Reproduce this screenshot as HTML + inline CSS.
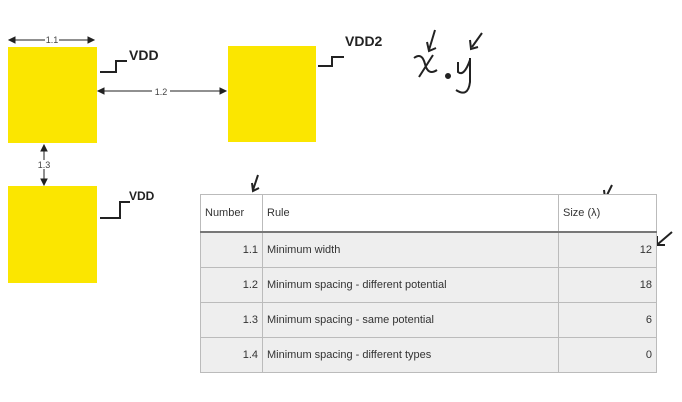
<!DOCTYPE html>
<html><head><meta charset="utf-8"><style>
body{margin:0;width:682px;height:402px;background:#fff;overflow:hidden;font-family:"Liberation Sans",sans-serif;position:relative}
.sq{position:absolute;background:#fbe600}
table{position:absolute;left:200px;top:194px;width:457px;border-collapse:collapse;font-size:11px;color:#333}
td{border:1px solid #bbb;padding:0 4px;height:34px}
tr.h td{background:#fff;height:36px;border-bottom:2px solid #777}
tr.b td{background:#eeeeee}
.r{text-align:right}
svg{position:absolute;left:0;top:0}
</style></head><body>
<div class="sq" style="left:8px;top:47px;width:89px;height:96px"></div>
<div class="sq" style="left:228px;top:46px;width:88px;height:96px"></div>
<div class="sq" style="left:8px;top:186px;width:89px;height:97px"></div>
<svg width="682" height="402">
<g stroke="#222" fill="#222" stroke-width="1">
<line x1="10" y1="40" x2="93" y2="40"/><path d="M9 40l6-3v6zM94 40l-6-3v6z"/>
<line x1="99" y1="91" x2="225" y2="91"/><path d="M98 91l6-3v6zM226 91l-6-3v6z"/>
<line x1="44" y1="146" x2="44" y2="184"/><path d="M44 145l-3 6h6zM44 185l-3-6h6z"/>
</g>
<g font-size="9" fill="#444" text-anchor="middle">
<rect x="45" y="35" width="14" height="9" fill="#fff"/><text x="52" y="43">1.1</text>
<rect x="152" y="86" width="18" height="9" fill="#fff"/><text x="161" y="95">1.2</text>
<rect x="36" y="160" width="16" height="9" fill="#fff"/><text x="44" y="168">1.3</text>
</g>
<g stroke="#222" stroke-width="2" fill="none">
<path d="M100 72h16v-11h11"/><path d="M318 66h14v-9h12"/><path d="M100 218h20v-16h10"/>
<path d="M435 30l-6 20M427 42l2 9 7-3"/><path d="M482 33l-10 14M470 40l1 9 7-2"/>
<path d="M414 58q8 -6 11 6t12 6M433 55l-14 22"/><circle cx="448" cy="76" r="2" fill="#222"/>
<path d="M458 62v10q6 5 12-12M470 58v24q-2 16-14 8"/>
<path d="M258 175l-5 15M252 183l1 8 6-3"/><path d="M612 185l-6 12M604 190l1 8 6-3"/><path d="M672 232l-14 12M657 236l0 9 8 0"/>
</g>
<g font-family="Liberation Sans" font-size="14" font-weight="bold" fill="#222">
<text x="129" y="60">VDD</text><text x="345" y="46">VDD2</text><text x="129" y="200" font-size="12">VDD</text>
</g>
</svg>
<table>
<tr class="h"><td style="width:53px">Number</td><td>Rule</td><td style="width:89px">Size (λ)</td></tr>
<tr class="b"><td class="r">1.1</td><td>Minimum width</td><td class="r">12</td></tr>
<tr class="b"><td class="r">1.2</td><td>Minimum spacing - different potential</td><td class="r">18</td></tr>
<tr class="b"><td class="r">1.3</td><td>Minimum spacing - same potential</td><td class="r">6</td></tr>
<tr class="b"><td class="r">1.4</td><td>Minimum spacing - different types</td><td class="r">0</td></tr>
</table>
</body></html>
